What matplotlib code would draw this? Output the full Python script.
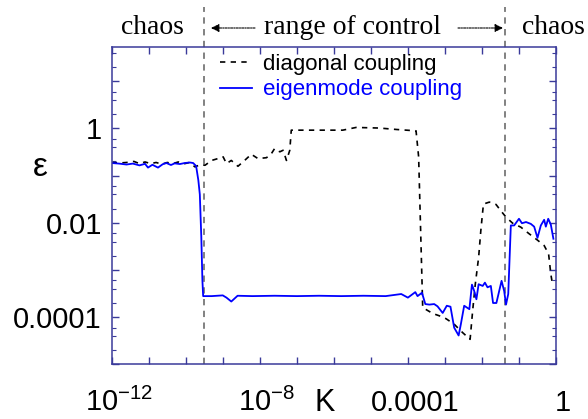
import numpy as np
import matplotlib
matplotlib.use("Agg")
import matplotlib.pyplot as plt
from matplotlib import transforms

# ── Data ─────────────────────────────────────────────────────
# exponents of K, i.e. K = 10**k_exp
eig_k_exp = [-12.0, -11.8, -11.6, -11.43, -11.25, -11.1, -11.02, -10.9, -10.75,
             -10.62, -10.52, -10.4, -10.3, -10.16, -10.03, -9.89, -9.80, -9.72,
             -9.66, -9.62, -9.58, -9.55, -9.53, -9.3, -9.0, -8.9, -8.77, -8.6,
             -8.2, -7.6, -7.0, -6.4, -5.8, -5.2, -4.6, -4.18, -4.0, -3.8, -3.74,
             -3.62, -3.53, -3.42, -3.29, -3.2, -3.06, -2.95, -2.85, -2.75, -2.63,
             -2.57, -2.48, -2.34, -2.27, -2.21, -2.15, -2.09, -1.98, -1.92, -1.85,
             -1.76, -1.70, -1.61, -1.47, -1.40, -1.35, -1.29, -1.22, -1.13, -1.0,
             -0.92, -0.81, -0.68, -0.59, -0.50, -0.41, -0.32, -0.275, -0.21,
             -0.14, -0.07]
eig_eps = [0.185, 0.18, 0.172, 0.18, 0.165, 0.178, 0.148, 0.17, 0.148,
           0.175, 0.185, 0.168, 0.182, 0.176, 0.185, 0.19, 0.185, 0.16,
           0.08, 0.04, 0.005, 6e-4, 2.8e-4, 2.8e-4, 2.9e-4, 2.6e-4, 2.15e-4, 2.85e-4,
           2.8e-4, 2.85e-4, 2.8e-4, 2.85e-4, 2.8e-4, 2.85e-4, 2.8e-4, 3.1e-4, 2.6e-4, 3.4e-4, 2.8e-4,
           3.3e-4, 1.9e-4, 1.85e-4, 1.9e-4, 1.7e-4, 1.23e-4, 1.75e-4, 1.67e-4, 6e-5, 4.1e-5,
           7.1e-5, 1.75e-4, 1.48e-4, 4.9e-4, 3.6e-4, 2.4e-4, 5.0e-4, 4.6e-4, 5.4e-4, 4.3e-4,
           4.6e-4, 2.0e-4, 2.0e-4, 5.9e-4, 3.6e-4, 1.85e-4, 3.1e-4, 8.8e-3, 8.8e-3, 0.0122,
           9.8e-3, 0.0104, 9.5e-3, 8.3e-3, 4.8e-3, 8.8e-3, 0.0116, 8.3e-3, 0.0122,
           9.2e-3, 4.6e-3]

diag_k_exp = [-12.0, -11.8, -11.6, -11.4, -11.25, -11.1, -10.95, -10.8, -10.65,
              -10.5, -10.35, -10.2, -10.05, -9.9, -9.75, -9.62, -9.48, -9.3, -9.13,
              -8.99, -8.9, -8.77, -8.59, -8.41, -8.23, -8.05, -7.82, -7.69, -7.6,
              -7.46, -7.37, -7.28, -7.19, -7.15, -6.5, -5.76, -5.4, -4.77, -4.3,
              -3.78, -3.71, -3.60, -3.33, -3.15, -2.97, -2.75, -2.52, -2.32, -2.25,
              -2.18, -2.09, -2.03, -1.96, -1.80, -1.62, -1.49, -1.35, -1.17, -0.95,
              -0.73, -0.50, -0.32, -0.2, -0.14, -0.11]
diag_eps = [0.19, 0.185, 0.19, 0.2, 0.18, 0.195, 0.18, 0.19, 0.175,
            0.19, 0.18, 0.195, 0.178, 0.19, 0.153, 0.17, 0.166, 0.21, 0.23,
            0.25, 0.18, 0.21, 0.158, 0.21, 0.284, 0.23, 0.24, 0.29, 0.375,
            0.32, 0.345, 0.21, 0.345, 0.92, 0.92, 0.92, 1.05, 1.02, 0.95,
            0.89, 0.25, 1.6e-4, 1.2e-4, 1.07e-4, 9.3e-5, 7.1e-5, 4.7e-5, 3.4e-5, 1.4e-4,
            5e-4, 1.85e-3, 6.9e-3, 0.025, 0.0275, 0.0245, 0.018, 0.0132, 9.8e-3, 8.1e-3,
            5.9e-3, 4.3e-3, 3.3e-3, 2.2e-3, 8.2e-4, 5.9e-4]

control_bounds = [3.2e-10, 0.043]          # edges of the controllable range
x_tick_vals = [1e-12, 1e-8, 1e-4, 1]
x_tick_labels = [r"$\mathregular{10^{-12}}$", r"$\mathregular{10^{-8}}$", "0.0001", "1"]
y_tick_vals = [1, 1e-2, 1e-4]
y_tick_labels = ["1", "0.01", "0.0001"]

# ── Style ────────────────────────────────────────────────────
plt.rcParams.update({
    "font.family": "Liberation Sans",
    "mathtext.fontset": "custom",
    "mathtext.rm": "Liberation Sans",
    "mathtext.it": "Liberation Sans:italic",
    "xtick.direction": "in",
    "ytick.direction": "in",
})
spine_col = "#3a3a9a"

fig = plt.figure(figsize=(5.88, 4.19), dpi=100)
W, H = 588, 419
ax = fig.add_axes([111.7 / W, 1 - 364.4 / H, (556 - 111.7) / W, (364.4 - 46.7) / H])

K_eig = 10.0 ** np.array(eig_k_exp)
K_diag = 10.0 ** np.array(diag_k_exp)

ax.plot(K_diag, diag_eps, color="black", lw=1.2, ls=(0, (3.2, 3.2)),
        label="diagonal coupling")
ax.plot(K_eig, eig_eps, color="#0000ff", lw=1.3, label="eigenmode coupling")

ax.set_xscale("log")
ax.set_yscale("log")
ax.set_xlim(1e-12, 1)
ax.set_ylim(1e-5, 54)

# boundaries of the range of control, running up into the header
top_frac = (364.4 - 7) / (364.4 - 46.7)
for b in control_bounds:
    ax.axvline(b, ymin=0, ymax=top_frac, color="#777777", lw=1.3,
               ls=(0, (3.5, 3)), clip_on=False, zorder=1)

for sp in ax.spines.values():
    sp.set_color(spine_col)
    sp.set_linewidth(1.1)

ax.xaxis.set_major_locator(matplotlib.ticker.LogLocator(base=10, numticks=20))
ax.xaxis.set_minor_locator(matplotlib.ticker.NullLocator())
ax.yaxis.set_major_locator(matplotlib.ticker.LogLocator(base=10, numticks=20))
ax.yaxis.set_minor_locator(matplotlib.ticker.LogLocator(base=10, subs=(2, 4, 6), numticks=20))
ax.tick_params(which="both", top=True, right=True, color=spine_col)
ax.tick_params(which="major", length=5, width=1.0)
ax.tick_params(which="minor", length=3, width=0.8)
ax.set_xticklabels([])
ax.set_yticklabels([], minor=True)

ax.set_yticks(ax.get_yticks())
ylabs = []
for t in ax.get_yticks():
    lab = ""
    for v, s in zip(y_tick_vals, y_tick_labels):
        if np.isclose(t, v):
            lab = s
    ylabs.append(lab)
ax.set_yticklabels(ylabs, fontsize=21)
ax.tick_params(axis="y", pad=7)
ax.set_ylim(1e-5, 54)

# x tick labels drawn on a shared baseline
trans = transforms.blended_transform_factory(ax.transData, fig.transFigure)
off = transforms.ScaledTranslation(7 / 100, 0, fig.dpi_scale_trans)
for v, s in zip(x_tick_vals, x_tick_labels):
    ax.text(v, 1 - 411 / H, s, transform=trans + off, ha="center", va="baseline",
            fontsize=21, clip_on=False)

fig.text(325 / W, 1 - 418 / H, "K", ha="center", va="bottom", fontsize=22)
fig.text(40 / W, 1 - 167 / H, "ε", ha="center", va="center", fontsize=24)

# header
fig.text(152.5 / W, 1 - 28 / H, "chaos", family="Liberation Serif", fontsize=20,
         ha="center", va="center")
fig.text(353 / W, 1 - 28 / H, "range of control", family="Liberation Serif",
         fontsize=20, ha="center", va="center")
fig.text(553 / W, 1 - 28 / H, "chaos", family="Liberation Serif", fontsize=20,
         ha="center", va="center")
arrow_kw = dict(arrowstyle="-|>", lw=0.8, ls=(0, (2, 1, 1, 1)), color="black",
                mutation_scale=12, shrinkA=0, shrinkB=0)
fig.add_artist(matplotlib.patches.FancyArrowPatch(
    (255 / W, 1 - 28 / H), (211 / W, 1 - 28 / H), transform=fig.transFigure, **arrow_kw))
fig.add_artist(matplotlib.patches.FancyArrowPatch(
    (458 / W, 1 - 28 / H), (503 / W, 1 - 28 / H), transform=fig.transFigure, **arrow_kw))

leg = ax.legend(loc="upper left", bbox_to_anchor=(220 / W, 1 - 54 / H),
                bbox_transform=fig.transFigure, frameon=False, fontsize=16,
                handlelength=1.45, handletextpad=0.5, labelspacing=0.2,
                borderpad=0, borderaxespad=0, labelcolor="linecolor")

fig.savefig("out.png", dpi=100)
